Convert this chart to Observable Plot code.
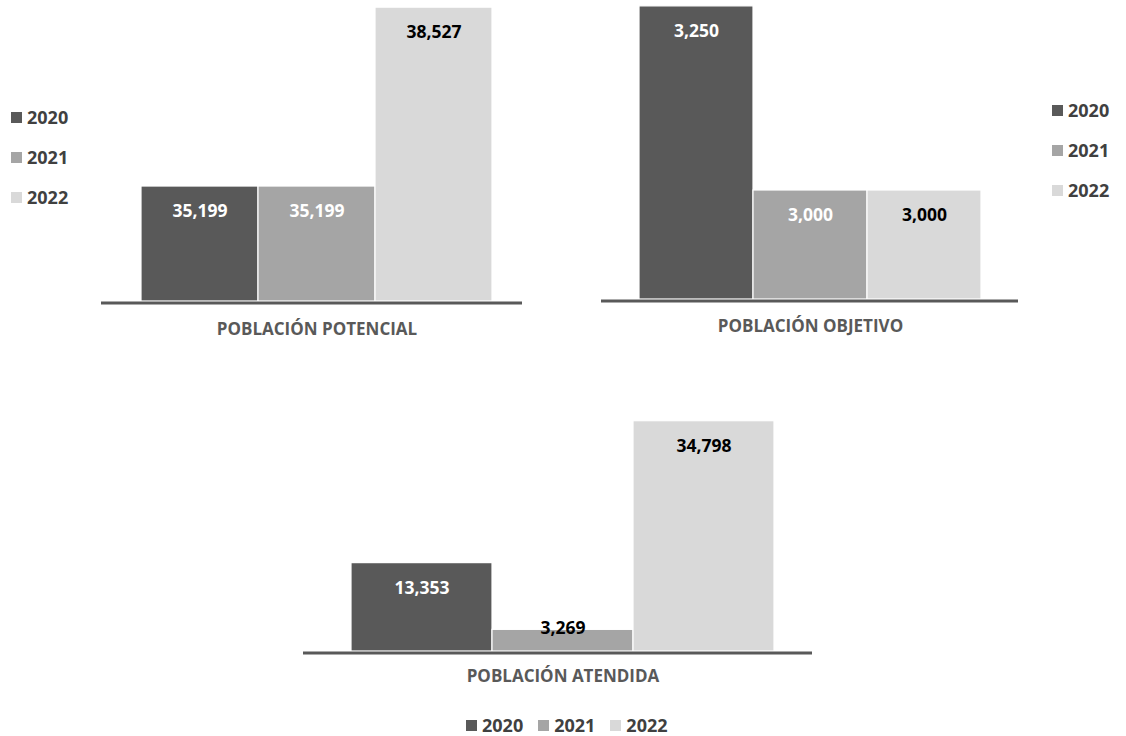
<!DOCTYPE html>
<html>
<head>
<meta charset="utf-8">
<script src="https://cdn.jsdelivr.net/npm/d3@7"></script>
<script src="https://cdn.jsdelivr.net/npm/@observablehq/plot@0.6"></script>
<style>
  html, body { margin: 0; padding: 0; background: #fff; }
  #root { position: relative; width: 1126px; height: 736px; font-family: "Open Sans", sans-serif; }
  .panel { position: absolute; }
  .legend { position: absolute; font-family: "Open Sans", sans-serif; font-weight: 700; font-size: 18px; line-height: 18px; color: #404040; }
  .item { display: flex; align-items: center; height: 18px; }
  .sw { width: 11px; height: 11px; margin-right: 5px; }
</style>
</head>
<body>
<div id="root"></div>
<script>
const years = ["2020", "2021", "2022"];
const categories = ["POBLACIÓN POTENCIAL", "POBLACIÓN OBJETIVO", "POBLACIÓN ATENDIDA"];
const potencial = [35199, 35199, 38527];
const objetivo = [3250, 3000, 3000];
const atendida = [13353, 3269, 34798];
const colors = ["#595959", "#a5a5a5", "#d9d9d9"];
const labelColors = ["#ffffff", "#ffffff", "#000000"];

const root = document.getElementById("root");
const fmt = d3.format(",");

function panel(values, title, opts) {
  const data = years.map((y, i) => ({year: y, value: values[i], i}));
  const [y0, y1] = opts.domain;
  const isShort = d => (d.value - y0) / (y1 - y0) < 0.15;
  const plot = Plot.plot({
    width: opts.width,
    height: opts.height,
    marginLeft: 0, marginRight: 0, marginTop: 0, marginBottom: opts.height - opts.base,
    style: {fontFamily: "Open Sans, sans-serif", overflow: "visible"},
    x: {domain: years, padding: 0, insetLeft: opts.insetLeft, insetRight: opts.insetRight, axis: null},
    y: {domain: opts.domain, axis: null},
    color: {domain: years, range: colors},
    marks: [
      Plot.barY(data, {x: "year", y1: () => y0, y2: "value", fill: "year", stroke: "#ffffff", strokeWidth: 1.2}),
      Plot.ruleY([y0], {stroke: "#595959", strokeWidth: 3, dy: 1.5}),
      Plot.text(data.filter(d => !isShort(d)), {x: "year", y: "value", text: d => fmt(d.value), dy: 25,
        fill: d => labelColors[d.i], fontSize: 17.5, fontWeight: 700}),
      Plot.text(data.filter(isShort), {x: "year", y: "value", text: d => fmt(d.value), dy: -1,
        fill: "#000000", fontSize: 17.5, fontWeight: 700}),
      Plot.text([title], {x: () => years[1], frameAnchor: "bottom", dy: opts.titleDy, text: d => d,
        fill: "#595959", fontSize: 17, fontWeight: 700})
    ]
  });
  plot.classList.add("panel");
  plot.style.left = opts.left + "px";
  plot.style.top = opts.top + "px";
  root.appendChild(plot);
}

panel(potencial, categories[0], {left: 101, top: 0, width: 421, height: 345, base: 301,
  domain: [33060, 38660], insetLeft: 40, insetRight: 30, titleDy: 33});
panel(objetivo, categories[1], {left: 601, top: 0, width: 417, height: 345, base: 299,
  domain: [2852, 3258], insetLeft: 37, insetRight: 37, titleDy: 32});
panel(atendida, categories[2], {left: 303, top: 400, width: 509, height: 295, base: 251,
  domain: [0, 37926], insetLeft: 47, insetRight: 38, titleDy: 30});

function legend(left, top, vertical, gap) {
  const div = document.createElement("div");
  div.className = "legend";
  div.style.left = left + "px";
  div.style.top = top + "px";
  if (!vertical) { div.style.display = "flex"; }
  years.forEach((y, i) => {
    const it = document.createElement("div");
    it.className = "item";
    if (vertical) it.style.marginBottom = (gap - 18) + "px";
    else if (i < years.length - 1) it.style.marginRight = gap + "px";
    const sw = document.createElement("div");
    sw.className = "sw";
    sw.style.background = colors[i];
    it.appendChild(sw);
    it.appendChild(document.createTextNode(y));
    div.appendChild(it);
  });
  root.appendChild(div);
}
legend(11, 108, true, 40);
legend(1052, 101, true, 40);
legend(466, 716, false, 15);
</script>
</body>
</html>
